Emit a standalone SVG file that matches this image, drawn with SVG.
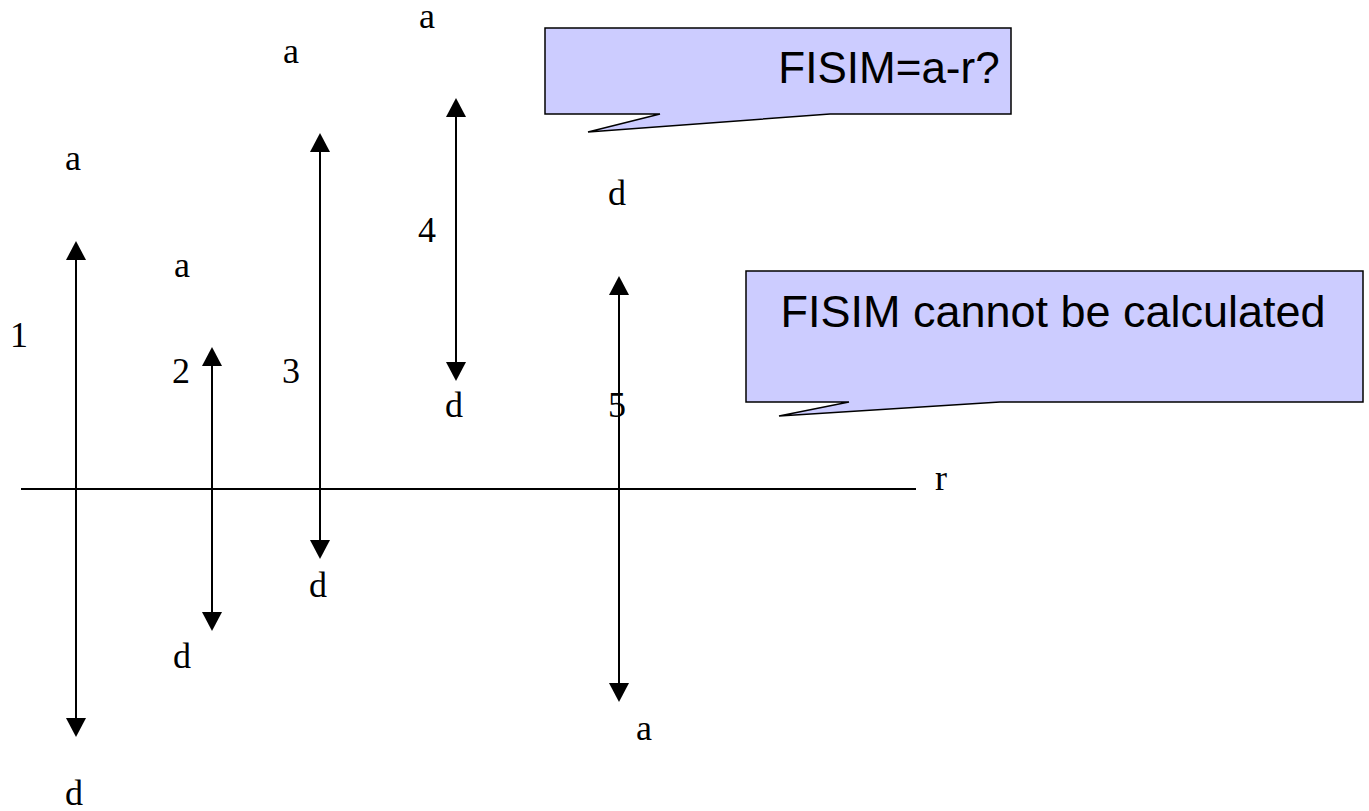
<svg xmlns="http://www.w3.org/2000/svg" width="1369" height="811" viewBox="0 0 1369 811">
<style>
.lbl{font-family:"Liberation Serif","Times New Roman",serif;font-size:36px;fill:#000;text-anchor:middle}
.call{font-family:"Liberation Sans",Arial,sans-serif;font-size:44px;fill:#000;text-anchor:middle}
.box{fill:#CCCCFF;stroke:#000;stroke-width:1.5}
.ln{stroke:#000;stroke-width:2;fill:none}
.hd{fill:#000}
</style>
<rect width="1369" height="811" fill="#fff"/>
<g id="connectors">
<line class="ln" x1="21" y1="489" x2="916" y2="489"/>
<line class="ln" x1="76" y1="260" x2="76" y2="718"/>
<path class="hd" d="M76,241 L66,260 L86,260 Z"/><path class="hd" d="M76,737 L66,718 L86,718 Z"/>
<line class="ln" x1="212" y1="366" x2="212" y2="612"/>
<path class="hd" d="M212,347 L202,366 L222,366 Z"/><path class="hd" d="M212,631 L202,612 L222,612 Z"/>
<line class="ln" x1="320" y1="152" x2="320" y2="540"/>
<path class="hd" d="M320,133 L310,152 L330,152 Z"/><path class="hd" d="M320,559 L310,540 L330,540 Z"/>
<line class="ln" x1="456" y1="117" x2="456" y2="362"/>
<path class="hd" d="M456,98 L446,117 L466,117 Z"/><path class="hd" d="M456,381 L446,362 L466,362 Z"/>
<line class="ln" x1="619" y1="295" x2="619" y2="683"/>
<path class="hd" d="M619,276 L609,295 L629,295 Z"/><path class="hd" d="M619,702 L609,683 L629,683 Z"/>
</g>
<g id="callout1">
<path class="box" d="M545,28 L1011,28 L1011,114 L830,114 L588,132 L660,114 L545,114 Z"/>
<text class="call" x="889" y="83">FISIM=a-r?</text>
</g>
<g id="callout2">
<path class="box" d="M746,271 L1363,271 L1363,402 L1000,402 L779,416 L849,402 L746,402 Z"/>
<text class="call" x="1053" y="327" textLength="545" lengthAdjust="spacingAndGlyphs">FISIM cannot be calculated</text>
</g>
<g id="labels">
<text class="lbl" x="73" y="170">a</text>
<text class="lbl" x="291" y="63">a</text>
<text class="lbl" x="427" y="28">a</text>
<text class="lbl" x="182" y="277">a</text>
<text class="lbl" x="19" y="347">1</text>
<text class="lbl" x="181" y="383">2</text>
<text class="lbl" x="291" y="383">3</text>
<text class="lbl" x="427" y="242">4</text>
<text class="lbl" x="617" y="205">d</text>
<text class="lbl" x="454" y="417">d</text>
<text class="lbl" x="617" y="417">5</text>
<text class="lbl" x="941" y="490">r</text>
<text class="lbl" x="318" y="597">d</text>
<text class="lbl" x="182" y="668">d</text>
<text class="lbl" x="74" y="805">d</text>
<text class="lbl" x="644" y="740">a</text>
</g>
</svg>
